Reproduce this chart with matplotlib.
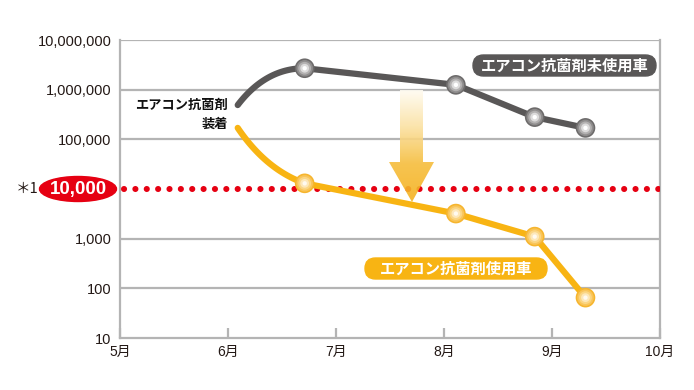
import numpy as np
import matplotlib.pyplot as plt
from matplotlib.path import Path
from matplotlib.patches import PathPatch, FancyBboxPatch, Ellipse
from matplotlib.colors import LinearSegmentedColormap

plt.rcParams['font.family'] = ['Liberation Sans', 'Noto Sans CJK JP']

# data (month as fractional number, bacteria count)
start_month = 6.09
untreated_start = 490000
treated_start = 170000
marker_months = [6.71, 8.11, 8.84, 9.31]
untreated_vals = [2700000, 1250000, 280000, 170000]
treated_vals = [13000, 3200, 1100, 65]
threshold = 10000

y_ticks = [10, 100, 1000, 10000, 100000, 1000000, 10000000]
y_labels = ['10', '100', '1,000', '', '100,000', '1,000,000', '10,000,000']
x_ticks = [5, 6, 7, 8, 9, 10]
x_labels = ['5月', '6月', '7月', '8月', '9月', '10月']

GRAY = '#595757'
ORANGE = '#f8b413'
RED = '#e60012'
GRID = '#b4b4b4'
JP = ['Noto Sans CJK JP', 'DejaVu Sans']

fig = plt.figure(figsize=(6.94, 3.9), dpi=100)
ax = fig.add_axes([120 / 694, 52 / 390, 540 / 694, 298 / 390])
ax.set_yscale('log')
ax.set_xlim(5, 10)
ax.set_ylim(10, 1e7)

for s in ax.spines.values():
    s.set_color(GRID)
    s.set_linewidth(1.6)
ax.spines['top'].set_visible(False)
for y in y_ticks[1:]:
    if y != threshold:
        ax.axhline(y, color=GRID, lw=1.6, zorder=1)

ax.set_yticks(y_ticks)
ax.set_yticklabels(y_labels, fontsize=10.5, color='#231815')
ax.yaxis.set_minor_locator(plt.NullLocator())
ax.tick_params(axis='y', length=0, pad=6)
ax.set_xticks(x_ticks)
ax.set_xticklabels(x_labels, fontsize=10, color='#231815')
ax.tick_params(axis='x', direction='in', length=7, width=1.6, color=GRID, pad=5)

# threshold dotted line
ax.plot([5.04, 10], [threshold, threshold], ls=(0, (0.01, 1.85)), lw=4.4,
        color=RED, dash_capstyle='round', zorder=3)


def draw_series(y0, vals, color, bend, z):
    # curved first segment (quadratic bezier in log space), then straight
    ly0 = np.log10(y0)
    ly = np.log10(vals)
    p0 = np.array([start_month, ly0])
    p1 = np.array([marker_months[0], ly[0]])
    c = np.array([start_month + 0.42 * (marker_months[0] - start_month),
                  ly0 + bend * (ly[0] - ly0)])
    t = np.linspace(0, 1, 40)[:, None]
    curve = (1 - t) ** 2 * p0 + 2 * (1 - t) * t * c + t ** 2 * p1
    xs = list(curve[:, 0]) + marker_months[1:]
    ys = list(curve[:, 1]) + list(ly[1:])
    ax.plot(xs, 10 ** np.array(ys), color=color, lw=4.5,
            solid_capstyle='round', solid_joinstyle='round', zorder=z)


draw_series(untreated_start, untreated_vals, GRAY, 1.0, 4)
draw_series(treated_start, treated_vals, ORANGE, 0.75, 4)

# markers: layered discs imitating a radial gradient
for vals, shades in [(untreated_vals, ['#6d6b6b', '#8f8d8d', '#b3b1b1', '#dddcdc', '#ffffff']),
                     (treated_vals, ['#f6b52e', '#f9c55a', '#fbd684', '#fde8bb', '#fffaf0'])]:
    for k, (sz, col) in enumerate(zip([200, 140, 85, 40, 10], shades)):
        ax.scatter(marker_months, vals, s=sz, color=col, edgecolor='none',
                   zorder=5 + k)

# overlay in pixel coordinates for annotations
ov = fig.add_axes([0, 0, 1, 1], zorder=10)
ov.set_xlim(0, 694)
ov.set_ylim(390, 0)
ov.axis('off')
ov.patch.set_alpha(0)

# gradient arrow
arrow = Path([(400, 90), (423, 90), (423, 162), (434, 162), (412, 202),
              (389, 162), (400, 162), (400, 90)], closed=True)
cmap = LinearSegmentedColormap.from_list(
    'arr', ['#fffdf6', '#fbe2a4', '#f6bd3c', '#f4b21f'])
grad = np.linspace(0, 1, 256).reshape(-1, 1)
im = ov.imshow(grad, cmap=cmap, extent=(385, 438, 202, 88), aspect='auto',
               alpha=0.9, zorder=3)
im.set_clip_path(PathPatch(arrow, transform=ov.transData))

# 10,000 red badge
ov.add_patch(Ellipse((78, 189), 77, 25, color=RED, zorder=3))
ov.text(78, 189.5, '10,000', color='white', fontsize=13.5, fontweight='bold',
        ha='center', va='center', zorder=4)
ov.text(16, 189, '＊1', color='#231815', fontsize=10.5, ha='left', va='center',
        family=JP)

# installation label
ov.text(228, 105, 'エアコン抗菌剤', fontsize=9.5, fontweight='bold',
        ha='right', va='center', color='#111111', family=JP)
ov.text(228, 124, '装着', fontsize=9.5, fontweight='bold',
        ha='right', va='center', color='#111111', family=JP)

# series labels
ov.add_patch(FancyBboxPatch((473, 55), 183, 21,
                            boxstyle='round,pad=0,rounding_size=10.5',
                            color=GRAY, zorder=3))
ov.text(564.5, 65.5, 'エアコン抗菌剤未使用車', color='white', fontsize=11,
        fontweight='bold', ha='center', va='center', zorder=4, family=JP)
ov.add_patch(FancyBboxPatch((365, 258), 182, 21,
                            boxstyle='round,pad=0,rounding_size=10.5',
                            color=ORANGE, zorder=3))
ov.text(456, 268.5, 'エアコン抗菌剤使用車', color='white', fontsize=11,
        fontweight='bold', ha='center', va='center', zorder=4, family=JP)

fig.savefig('out.png', dpi=100)
